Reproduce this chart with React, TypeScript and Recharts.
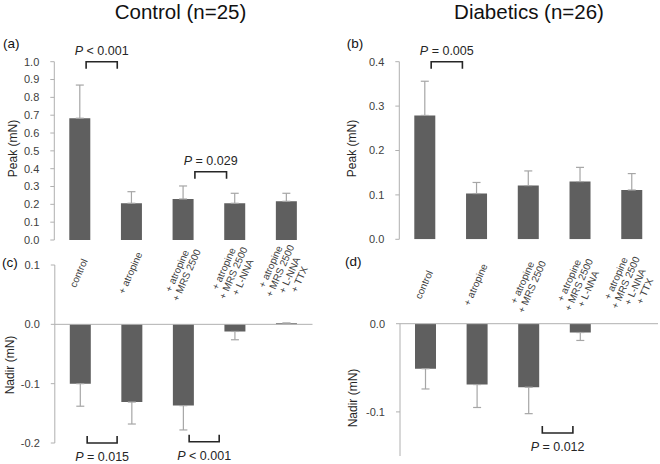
import React from 'react';
import { BarChart, Bar, XAxis, YAxis, ErrorBar, ReferenceLine } from 'recharts';

// categories (line breaks = stacked label lines)
const categories = [
  'control',
  '+ atropine',
  '+ atropine\n+ MRS 2500',
  '+ atropine\n+ MRS 2500\n+ L-NNA',
  '+ atropine\n+ MRS 2500\n+ L-NNA\n+ TTX',
];

// Control (n=25)
const controlPeak = [0.683, 0.206, 0.23, 0.206, 0.217];
const controlPeakSd = [0.186, 0.065, 0.073, 0.056, 0.045];
const controlNadir = [-0.1, -0.131, -0.137, -0.012, 0.002];
const controlNadirSd = [0.038, 0.037, 0.041, 0.014, 0];

// Diabetics (n=26)
const diabPeak = [0.279, 0.103, 0.121, 0.13, 0.111];
const diabPeakSd = [0.077, 0.025, 0.033, 0.032, 0.037];
const diabNadir = [-0.051, -0.069, -0.072, -0.01, 0];
const diabNadirSd = [0.023, 0.026, 0.03, 0.009, 0];

// axis ticks
const controlPeakTicks = [0, 0.1, 0.2, 0.3, 0.4, 0.5, 0.6, 0.7, 0.8, 0.9, 1.0];
const diabPeakTicks = [0, 0.1, 0.2, 0.3, 0.4];
const controlNadirTicks = [-0.2, -0.1, 0, 0.1];
const diabNadirTicks = [-0.1, 0];

// significance annotations: from/to category index, level, p text
const controlPeakP = [
  { from: 0, to: 1, level: 1.0, op: '<', p: '0.001' },
  { from: 2, to: 3, level: 0.383, op: '=', p: '0.029' },
];
const diabPeakP = [{ from: 0, to: 1, level: 0.4, op: '=', p: '0.005' }];
const controlNadirP = [
  { from: 0, to: 1, level: -0.2, op: '=', p: '0.015' },
  { from: 2, to: 3, level: -0.198, op: '<', p: '0.001' },
];
const diabNadirP = [{ from: 2, to: 3, level: -0.124, op: '=', p: '0.012' }];

const FONT = "'Liberation Sans', Arial, sans-serif";
const AXIS = '#b0b0b0';
const BAR = '#5f5f5f';
const TXT = '#404040';

const rows = (vals: number[], sds: number[], down: boolean) =>
  categories.map((name, i) => ({
    name,
    value: vals[i],
    err: down ? [sds[i], 0] : [0, sds[i]],
  }));

const CatTick = (props: any) => {
  const { x, y, payload, shift } = props;
  if (x == null || y == null || !payload) return null;
  const lines = String(payload.value).split('\n');
  const lh = 10.5;
  return (
    <g transform={`translate(${x - 2},${y + shift}) rotate(-66)`}>
      <text textAnchor="middle" fontSize={10} fill={TXT} fontFamily={FONT}>
        {lines.map((l, i) => (
          <tspan key={i} x={0} dy={i === 0 ? -((lines.length - 1) * lh) / 2 + 3.5 : lh}>
            {l}
          </tspan>
        ))}
      </text>
    </g>
  );
};

const Bracket = (props: any) => {
  const { x1, y1, x2, up, inL, inR, op, p } = props;
  if (x1 == null || y1 == null) return null;
  const l = x1 + inL;
  const r = x2 - inR;
  const legY = up ? y1 + 7 : y1 - 7;
  const ty = up ? y1 - 6.7 : y1 + 18;
  return (
    <g>
      <path d={`M${l},${legY}V${y1}H${r}V${legY}`} fill="none" stroke="#262626" strokeWidth={1.6} />
      <text x={(l + r) / 2} y={ty} textAnchor="middle" fontSize={12.5} fill="#262626" fontFamily={FONT}>
        <tspan fontStyle="italic">P</tspan>
        {` ${op} ${p}`}
      </text>
    </g>
  );
};

function Panel(props: any) {
  const { data, domain, ticks, margin, yWidth, negative, labelShift, notes, up, insetsFor } = props;
  return (
    <div style={{ position: 'absolute', left: 0, top: 0 }}>
      <BarChart width={660} height={464} data={data} margin={margin} style={{ fontFamily: FONT }}>
        {negative ? (
          <XAxis
            dataKey="name"
            orientation="top"
            height={1}
            axisLine={false}
            tickLine={false}
            interval={0}
            tick={(tp: any) => <CatTick {...tp} shift={labelShift} />}
          />
        ) : (
          <XAxis dataKey="name" height={0} tick={false} tickLine={false} axisLine={{ stroke: AXIS }} />
        )}
        <YAxis
          type="number"
          domain={domain}
          ticks={ticks}
          allowDataOverflow
          width={yWidth}
          tick={{ fontSize: 11, fill: TXT }}
          tickFormatter={(v: number) => v.toFixed(1)}
          tickSize={4}
          tickMargin={11}
          axisLine={{ stroke: AXIS }}
          tickLine={{ stroke: AXIS }}
        />
        {negative && <ReferenceLine y={0} stroke={AXIS} ifOverflow="visible" />}
        <Bar dataKey="value" fill={BAR} barSize={21} isAnimationActive={false}>
          <ErrorBar dataKey="err" width={4} stroke="#a6a6a6" strokeWidth={1.2} direction="y" isAnimationActive={false} />
        </Bar>
        {notes.map((n: any, i: number) => {
          const ins = insetsFor[i];
          return (
            <ReferenceLine
              key={i}
              ifOverflow="visible"
              segment={[
                { x: categories[n.from], y: n.level },
                { x: categories[n.to], y: n.level },
              ]}
              shape={(sp: any) => <Bracket {...sp} up={up} inL={ins[0]} inR={ins[1]} op={n.op} p={n.p} />}
            />
          );
        })}
      </BarChart>
    </div>
  );
}

export default function App() {
  return (
    <div style={{ position: 'absolute', left: 0, top: 0, width: 660, height: 464, background: '#fff', fontFamily: FONT }}>
      <Panel
        data={rows(controlPeak, controlPeakSd, false)}
        domain={[0, 1]}
        ticks={controlPeakTicks}
        margin={{ top: 61.7, bottom: 224, left: 0, right: 347.5 }}
        yWidth={54.3}
        notes={controlPeakP}
        up
        insetsFor={[[6, 14.5], [11.5, 8.5]]}
      />
      <Panel
        data={rows(diabPeak, diabPeakSd, false)}
        domain={[0, 0.4]}
        ticks={diabPeakTicks}
        margin={{ top: 61.7, bottom: 224.7, left: 345, right: 2 }}
        yWidth={54.3}
        notes={diabPeakP}
        up
        insetsFor={[[6, 14.5]]}
      />
      <Panel
        data={rows(controlNadir, controlNadirSd, true)}
        domain={[-0.2, 0.1]}
        ticks={controlNadirTicks}
        margin={{ top: 264, bottom: 21, left: 0, right: 347.5 }}
        yWidth={54.8}
        negative
        labelShift={16}
        notes={controlNadirP}
        up={false}
        insetsFor={[[6.6, 15], [5.5, 16]]}
      />
      <Panel
        data={rows(diabNadir, diabNadirSd, true)}
        domain={[-0.15, 0]}
        ticks={diabNadirTicks}
        margin={{ top: 322.7, bottom: 8, left: 345.5, right: 2 }}
        yWidth={54.5}
        negative
        labelShift={-31}
        notes={diabNadirP}
        up={false}
        insetsFor={[[13.3, 7.7]]}
      />
      <svg width={660} height={464} style={{ position: 'absolute', left: 0, top: 0, pointerEvents: 'none' }}>
        <g fontFamily={FONT} fill="#111">
          <text x={180.5} y={19} fontSize={20.5} textAnchor="middle">Control (n=25)</text>
          <text x={529} y={19} fontSize={20.5} textAnchor="middle">Diabetics (n=26)</text>
          <text x={3} y={48} fontSize={13.5}>(a)</text>
          <text x={346.7} y={48} fontSize={13.5}>(b)</text>
          <text x={2} y={267} fontSize={13.5}>(c)</text>
          <text x={345} y={266} fontSize={13.5}>(d)</text>
        </g>
        <g fontFamily={FONT} fill="#262626" fontSize={12} textAnchor="middle">
          <text transform="translate(12.5,148.5) rotate(-90)" dy="0.35em">Peak (mN)</text>
          <text transform="translate(351.7,148.5) rotate(-90)" dy="0.35em">Peak (mN)</text>
          <text transform="translate(10,365) rotate(-90)" dy="0.35em">Nadir (mN)</text>
          <text transform="translate(353,398) rotate(-90)" dy="0.35em">Nadir (mN)</text>
        </g>
      </svg>
    </div>
  );
}
